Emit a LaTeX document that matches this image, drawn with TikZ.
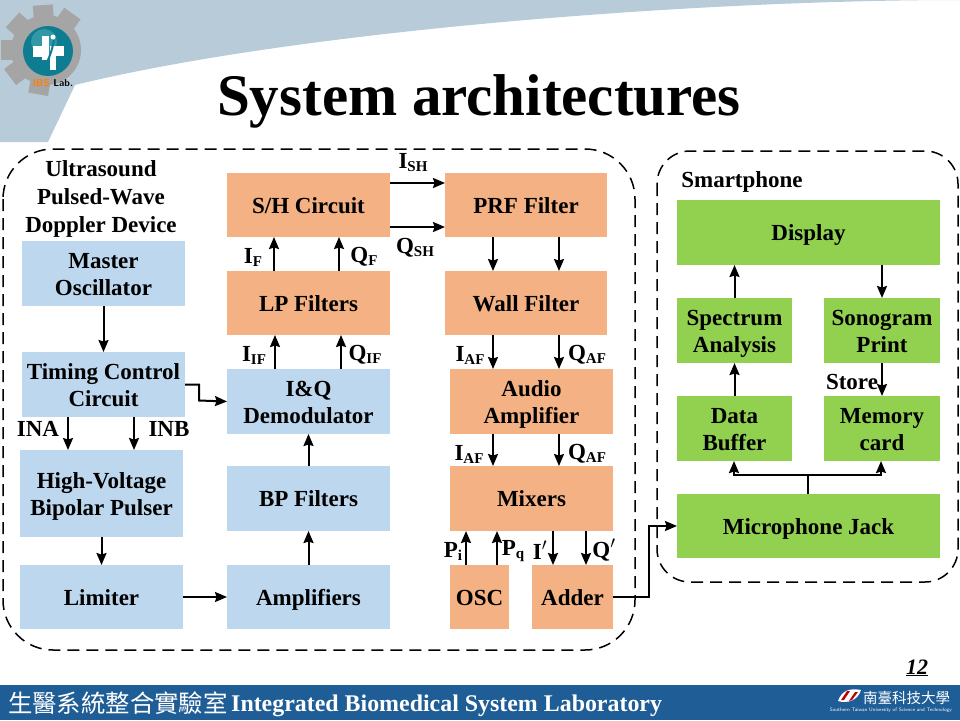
\documentclass[tikz,border=0pt]{standalone}
\usepackage{fontspec}
\setmainfont{Liberation Serif}
\newfontfamily\cjkfont{Noto Sans CJK TC}
\usetikzlibrary{arrows.meta,calc}
\definecolor{bluebox}{RGB}{189,215,238}
\definecolor{orangebox}{RGB}{244,177,131}
\definecolor{greenbox}{RGB}{146,208,80}
\definecolor{headerband}{RGB}{183,203,216}
\definecolor{footerbar}{RGB}{31,93,150}
\definecolor{geargray}{RGB}{165,165,165}
\definecolor{tealball}{RGB}{15,125,145}
\definecolor{teallight}{RGB}{90,185,195}
\newcommand{\sbs}[1]{\raisebox{-3pt}{\fontsize{15}{15}\selectfont #1}}
\newcommand{\bx}[7]{%
  \pgfmathsetmacro{\bw}{#4-#2}\pgfmathsetmacro{\bh}{#5-#3}%
  \pgfmathsetmacro{\bcx}{(#4+#2)/2}\pgfmathsetmacro{\bcy}{(#5+#3)/2}%
  \node[#6,minimum width=\bw pt,minimum height=\bh pt] (#1) at (\bcx,\bcy)
    {\raisebox{-3pt}[\height][\depth]{\begin{tabular}{@{}c@{}}#7\end{tabular}}};}
\tikzset{
  boxbase/.style={inner sep=0pt,outer sep=0pt,align=center,font=\fontsize{23}{27}\selectfont\bfseries},
  bluenode/.style={boxbase,fill=bluebox},
  orangenode/.style={boxbase,fill=orangebox},
  greennode/.style={boxbase,fill=greenbox},
  lab/.style={inner sep=0pt,align=center,font=\fontsize{23}{28}\selectfont\bfseries},
  arr/.style={line width=2pt,-{Stealth[length=12pt,width=10pt,inset=1.5pt]}},
  link/.style={line width=2pt},
  dashbox/.style={line width=1.5pt,dash pattern=on 12pt off 7pt},
}
\begin{document}
\begin{tikzpicture}[x=1pt,y=-1pt]
\useasboundingbox (0,0) rectangle (960,720);
% header
\fill[headerband] (0,0) -- (960,0) .. controls (700,0) and (300,30) .. (75,85) -- (48,142) -- (0,142) -- cycle;
% logo
\foreach \a in {4,-36,48,90,127,170}{
  \fill[geargray,rotate around={\a:(46,50)}] (36,5) rectangle (56,30);
}
\fill[geargray] (46,50) circle (35);
\fill[tealball] (48,51) circle (25);
\fill[teallight,opacity=.45] (44,42) circle (13);
\fill[white] (33,46) rectangle (49,57);
\fill[white] (42,36) rectangle (49,60);
\fill[white] (50,46) rectangle (64,56);
\fill[white] (50,46) rectangle (56,70);
\draw[tealball,line width=2pt] (54,40) .. controls (52,50) and (50,56) .. (47,62) -- (47,71);
\fill[white] (53,37) circle (2.5);
\node[inner sep=0pt,font=\fontsize{10}{10}\selectfont\bfseries\sffamily] (iblab) at (53,83.5) {\textcolor{orange}{IBS} Lab.};
% title
\node[inner sep=0pt,font=\fontsize{59}{59}\selectfont\bfseries] (title) at (479,101) {System architectures};
% dashed frames
\draw[dashbox,rounded corners=50pt] (3,149) rectangle (635,650);
\draw[dashbox,rounded corners=33pt] (657,151) rectangle (958,582);
% boxes
\bx{master}{22}{241}{185}{306}{bluenode}{Master\\Oscillator}
\bx{timing}{22}{352}{185}{417}{bluenode}{Timing Control\\Circuit}
\bx{pulser}{20}{450}{183}{537}{bluenode}{High-Voltage\\Bipolar Pulser}
\bx{limiter}{20}{565}{183}{629}{bluenode}{Limiter}
\bx{amps}{227}{565}{390}{629}{bluenode}{Amplifiers}
\bx{bp}{227}{466}{390}{531}{bluenode}{BP Filters}
\bx{iq}{227}{369}{390}{434}{bluenode}{I\&Q\\Demodulator}
\bx{lp}{227}{271}{390}{335}{orangenode}{LP Filters}
\bx{sh}{227}{173}{390}{237}{orangenode}{S/H Circuit}
\bx{prf}{445}{173}{607}{237}{orangenode}{PRF Filter}
\bx{wall}{445}{271}{607}{335}{orangenode}{Wall Filter}
\bx{audio}{450}{369}{613}{434}{orangenode}{Audio\\Amplifier}
\bx{mixers}{450}{466}{613}{531}{orangenode}{Mixers}
\bx{osc}{450}{565}{509}{629}{orangenode}{OSC}
\bx{adder}{532}{565}{613}{629}{orangenode}{Adder}
\bx{display}{677}{200}{940}{265}{greennode}{Display}
\bx{spectrum}{677}{298}{792}{363}{greennode}{Spectrum\\Analysis}
\bx{sonogram}{824}{298}{940}{363}{greennode}{Sonogram\\Print}
\bx{buffer}{677}{396}{792}{461}{greennode}{Data\\Buffer}
\bx{memory}{824}{396}{940}{461}{greennode}{Memory\\card}
\bx{jack}{677}{494}{940}{558}{greennode}{Microphone Jack}
% labels
\node[lab] (device) at (101,199) {Ultrasound\\Pulsed-Wave\\Doppler Device};
\node[lab] (smart) at (742,182) {Smartphone};
\node[lab] (store) at (852,382) {Store};
\node[lab] (ina) at (38,429) {INA};
\node[lab] (inb) at (169,429) {INB};
\node[lab] (lisht) at (413,163) {I\sbs{SH}};
\node[lab] (lqsh) at (415,248) {Q\sbs{SH}};
\node[lab] (lif) at (253,257) {I\sbs{F}};
\node[lab] (lqf) at (364,257) {Q\sbs{F}};
\node[lab] (liif) at (254,355) {I\sbs{IF}};
\node[lab] (lqif) at (365,355) {Q\sbs{IF}};
\node[lab] (liaf) at (470,355) {I\sbs{AF}};
\node[lab] (lqaf) at (587,355) {Q\sbs{AF}};
\node[lab] (liafb) at (469,454) {I\sbs{AF}};
\node[lab] (lqafb) at (587,454) {Q\sbs{AF}};
\node[lab] (lpi) at (453,551) {P\sbs{i}};
\node[lab] (lpq) at (513,551) {P\sbs{q}};
\node[lab] (liprime) at (540,550) {I$'$};
\node[lab] (lqprime) at (604,550) {Q$'$};
% arrows
\draw[arr] (master.south) -- (timing.north);
\draw[arr] ([xshift=-35.5pt]timing.south) -- ([xshift=-33.5pt]pulser.north);
\draw[arr] ([xshift=30.5pt]timing.south) -- ([xshift=32.5pt]pulser.north);
\draw[arr] (pulser.south) -- (limiter.north);
\draw[arr] (limiter.east) -- (amps.west);
\draw[arr] (amps.north) -- (bp.south);
\draw[arr] (bp.north) -- (iq.south);
\draw[arr] ([xshift=-33.5pt]iq.north) -- ([xshift=-33.5pt]lp.south);
\draw[arr] ([xshift=32.5pt]iq.north) -- ([xshift=32.5pt]lp.south);
\draw[arr] ([xshift=-34.5pt]lp.north) -- ([xshift=-34.5pt]sh.south);
\draw[arr] ([xshift=30.5pt]lp.north) -- ([xshift=30.5pt]sh.south);
\draw[arr] ([yshift=22pt]sh.east) -- ([yshift=22pt]prf.west);
\draw[arr] ([yshift=-22pt]sh.east) -- ([yshift=-22pt]prf.west);
\draw[arr] ([xshift=-33pt]prf.south) -- ([xshift=-33pt]wall.north);
\draw[arr] ([xshift=33pt]prf.south) -- ([xshift=33pt]wall.north);
\draw[arr] ([xshift=-33pt]wall.south) -- ([xshift=-38.5pt]audio.north);
\draw[arr] ([xshift=33pt]wall.south) -- ([xshift=27.5pt]audio.north);
\draw[arr] ([xshift=-38.5pt]audio.south) -- ([xshift=-38.5pt]mixers.north);
\draw[arr] ([xshift=27.5pt]audio.south) -- ([xshift=27.5pt]mixers.north);
\draw[arr] ([xshift=-13.5pt]osc.north) -- ([xshift=-65.5pt]mixers.south);
\draw[arr] ([xshift=17.5pt]osc.north) -- ([xshift=-34.5pt]mixers.south);
\draw[arr] ([xshift=21.5pt]mixers.south) -- ([xshift=-19.5pt]adder.north);
\draw[arr] ([xshift=54.5pt]mixers.south) -- ([xshift=13.5pt]adder.north);
\draw[arr] (timing.east) -- ++(14,0) -- ++(0,16) -- (iq.west);
\draw[arr] (adder.east) -- ++(36,0) |- (jack.west);
\coordinate (busc) at (808,475);
\coordinate (busl) at (734,475);
\coordinate (busr) at (881,475);
\draw[link] (jack.north -| busc) -- (busc);
\draw[arr] (busc) -- (busl) -- (busl |- buffer.south);
\draw[arr] (busc) -- (busr) -- (busr |- memory.south);
\draw[arr] (buffer.north) -- (spectrum.south);
\draw[arr] (spectrum.north) -- (display.south -| spectrum.north);
\draw[arr] (display.south -| sonogram.south) -- (sonogram.north);
\draw[arr] (sonogram.south) -- (memory.north);
% footer
\fill[footerbar] (0,685) rectangle (960,720);
\node[inner sep=0pt,font=\fontsize{24.4}{24.4}\selectfont\cjkfont\color{white},anchor=west] (footcjk) at (8,703) {生醫系統整合實驗室};
\node[inner sep=0pt,font=\fontsize{23.9}{24}\selectfont\bfseries\color{white},anchor=west] (foottext) at (231,705.5) {Integrated Biomedical System Laboratory};
\node[inner sep=0pt,font=\fontsize{22}{22}\selectfont\bfseries\itshape] (pagenum) at (917,668) {\underline{12}};
\fill[white] (838,701) .. controls (842,690) and (850,688) .. (861,690) .. controls (858,700) and (848,704) .. (838,701) -- cycle;
\fill[red!75!black] (841,700) -- (847,691) -- (850,691) -- (844,700) -- cycle;
\fill[red!75!black] (849,701) -- (855,692) -- (858,692) -- (852,700) -- cycle;
\node[inner sep=0pt,font=\fontsize{14.5}{14.5}\selectfont\cjkfont\color{white},anchor=west] (footuni) at (863,698) {南臺科技大學};
\node[inner sep=0pt,font=\fontsize{5}{5}\selectfont\sffamily\color{white},anchor=east] (footeng) at (952,710) {Southern Taiwan University of Science and Technology};
\end{tikzpicture}
\end{document}
